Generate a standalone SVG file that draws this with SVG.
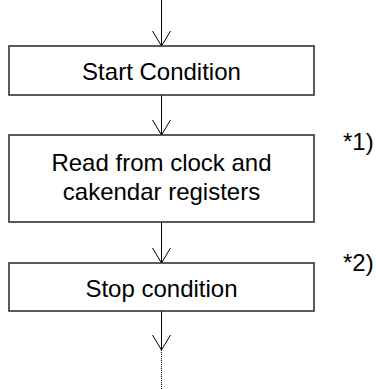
<svg xmlns="http://www.w3.org/2000/svg" width="376" height="389" viewBox="0 0 376 389">
<style>
.box{fill:#fff;stroke:#333;stroke-width:1.6}
.t{font-family:"Liberation Sans",Arial,sans-serif;font-size:24px;fill:#000}
.ln{stroke:#000;stroke-width:1;fill:none}
</style>
<defs>
<marker id="v" markerWidth="17" markerHeight="20" refX="16" refY="10" markerUnits="userSpaceOnUse" orient="auto" viewBox="0 0 17 20">
<path d="M1,1 L16,10 L1,19" fill="none" stroke="#000" stroke-width="1"/>
</marker>
</defs>
<rect width="376" height="389" fill="#fff"/>
<g id="connectors">
<line class="ln" x1="161.5" y1="0" x2="161.5" y2="46" marker-end="url(#v)"/>
<line class="ln" x1="161.5" y1="95" x2="161.5" y2="135" marker-end="url(#v)"/>
<line class="ln" x1="161.5" y1="222" x2="161.5" y2="263" marker-end="url(#v)"/>
<line class="ln" x1="161.5" y1="311" x2="161.5" y2="350" marker-end="url(#v)"/>
<line class="ln" x1="161.5" y1="350" x2="161.5" y2="389" stroke-dasharray="1,1"/>
</g>
<g id="start">
<rect class="box" x="9" y="46" width="305" height="49"/>
<text class="t" x="161.5" y="80" text-anchor="middle">Start Condition</text>
</g>
<g id="read">
<rect class="box" x="9" y="135" width="305" height="87"/>
<text class="t" x="161.5" y="171" text-anchor="middle">Read from clock and</text>
<text class="t" x="161.5" y="200" text-anchor="middle">cakendar registers</text>
</g>
<g id="stop">
<rect class="box" x="9" y="263" width="305" height="48"/>
<text class="t" x="161.5" y="297" text-anchor="middle">Stop condition</text>
</g>
<g id="notes">
<text class="t" x="343" y="150">*1)</text>
<text class="t" x="343" y="271">*2)</text>
</g>
</svg>
